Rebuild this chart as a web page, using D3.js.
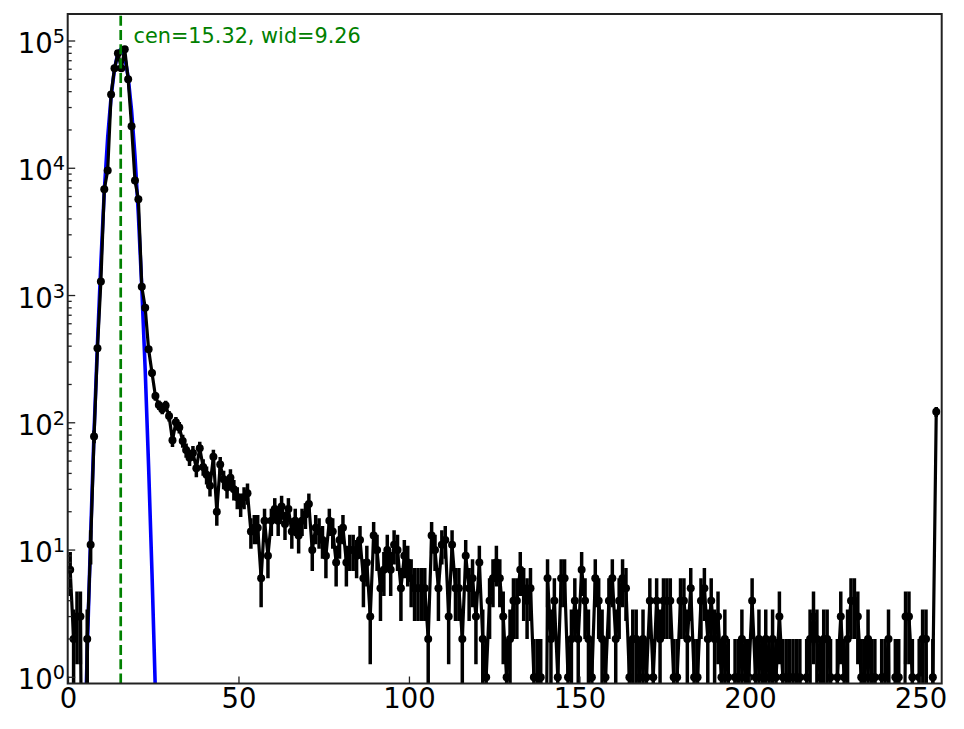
<!DOCTYPE html>
<html lang="en">
<head>
<meta charset="UTF-8">
<title>Peak fit, log counts</title>
<style>
  body { margin: 0; background: #fff; }
  text { font-family: "DejaVu Sans", sans-serif; fill: #000; }
  .frame { fill: none; stroke: #222; stroke-width: 2px; }
  .tick { stroke: #222; stroke-width: 1.3px; }
  .data-line { fill: none; stroke: #000; stroke-width: 3.2px; stroke-linejoin: round; }
  .err { stroke: #000; stroke-width: 3.5px; }
  .fit { fill: none; stroke: #0000ff; stroke-width: 3.6px; stroke-linejoin: round; }
  .cen { stroke: #008000; stroke-width: 2.7px; stroke-dasharray: 10, 4.3; }
</style>
</head>
<body>
<svg width="964" height="729"></svg>
<script src="https://d3js.org/d3.v7.min.js"></script>
<script>
// counts per bin (bins 0..254), errors are sqrt(n)
var counts = [
  7, 2, 3, 3, 0, 2, 11, 78, 385, 1290,
  6850, 9600, 38000, 61000, 80000, 61000, 86000, 50000, 21400, 8000,
  5700, 1170, 800, 378, 246, 162, 138, 128, 137, 113,
  73, 101, 92, 72, 61, 53, 58, 44, 63, 45,
  39, 32, 54, 20, 47, 36, 31, 37, 30, 26,
  23, 26, 28, 14, 15, 15, 6, 17, 9, 17,
  21, 17, 22, 16, 21, 14, 17, 13, 17, 19,
  23, 10, 15, 14, 12, 9, 17, 14, 8, 12,
  15, 8, 10, 10, 9, 12, 6, 8, 3, 13,
  10, 5, 7, 10, 7, 11, 10, 5, 9, 8,
  6, 5, 5, 5, 5, 2, 13, 10, 5, 11,
  12, 3, 11, 5, 5, 2, 9, 5, 6, 3,
  8, 2, 1, 4, 6, 8, 6, 3, 1, 2,
  4, 4, 7, 5, 4, 5, 1, 1, 1, 0,
  6, 2, 4, 1, 6, 6, 1, 2, 4, 2,
  7, 4, 2, 1, 6, 4, 2, 1, 4, 6,
  2, 4, 6, 5, 1, 2, 2, 1, 2, 1,
  4, 1, 4, 2, 4, 4, 4, 1, 1, 4,
  4, 2, 5, 1, 1, 4, 5, 2, 4, 2,
  3, 1, 2, 1, 0, 1, 1, 2, 1, 1,
  4, 1, 2, 1, 2, 1, 2, 1, 3, 1,
  1, 1, 1, 1, 1, 0, 1, 2, 3, 2,
  1, 2, 2, 1, 0, 1, 3, 1, 2, 4,
  4, 3, 1, 1, 2, 1, 1, 0, 1, 1,
  2, 0, 1, 1, 0, 3, 3, 1, 0, 1,
  2, 2, 0, 1, 122
];

// fitted curve read at bin centres (bins 4..26)
var fitBins = [4, 5, 6, 7, 8, 9, 10, 11, 12, 13, 14, 15, 16, 17, 18, 19, 20, 21, 22, 23, 24, 25, 26];
var fitValues = [0.15, 1.6, 13, 85, 420, 1800, 6600, 17500, 36500, 60500, 80500, 87000,
                 75000, 52000, 28500, 12500, 4300, 1150, 260, 45, 6.5, 0.75, 0.07];

var fitCen = 15.32;
var fitLabel = "cen=15.32, wid=9.26";

var xTicks = [0, 50, 100, 150, 200, 250];
var yTickExps = [0, 1, 2, 3, 4, 5];

var svg = d3.select("svg");
var plotLeft = 67.7, plotRight = 941.7, plotTop = 14, plotBottom = 683.5;
var floorVal = 1e-3;

var x = d3.scaleLinear().domain([-0.23, 256.1]).range([plotLeft, plotRight]);
var y = d3.scaleLog().domain([Math.pow(10, -0.0487), Math.pow(10, 5.2122)]).range([plotBottom, plotTop]);

function yv(v) { return y(v > 0 ? v : floorVal); }

svg.append("clipPath").attr("id", "plotclip")
  .append("rect").attr("x", plotLeft).attr("y", plotTop)
  .attr("width", plotRight - plotLeft).attr("height", plotBottom - plotTop);

var plot = svg.append("g").attr("clip-path", "url(#plotclip)");

var pts = counts.map(function(c, i) { return {x: i + 0.5, n: c}; });

// fit curve
var fitPts = fitBins.map(function(b, i) { return {x: b + 0.5, v: fitValues[i]}; });
plot.append("path")
  .attr("class", "fit")
  .attr("d", d3.line()
    .x(function(d) { return x(d.x); })
    .y(function(d) { return yv(d.v); })(fitPts));

// error bars
plot.append("g").selectAll("line")
  .data(pts.filter(function(d) { return d.n > 0; }))
  .enter().append("line")
  .attr("class", "err")
  .attr("x1", function(d) { return x(d.x); })
  .attr("x2", function(d) { return x(d.x); })
  .attr("y1", function(d) { return yv(d.n - Math.sqrt(d.n)); })
  .attr("y2", function(d) { return yv(d.n + Math.sqrt(d.n)); });

// data line
plot.append("path")
  .attr("class", "data-line")
  .attr("d", d3.line()
    .x(function(d) { return x(d.x); })
    .y(function(d) { return yv(d.n); })(pts));

// markers
plot.append("g").selectAll("circle")
  .data(pts.filter(function(d) { return d.n > 0; }))
  .enter().append("circle")
  .attr("cx", function(d) { return x(d.x); })
  .attr("cy", function(d) { return y(d.n); })
  .attr("r", 4)
  .attr("fill", "#000");

// centre line
plot.append("line")
  .attr("class", "cen")
  .attr("x1", x(fitCen)).attr("x2", x(fitCen))
  .attr("y1", plotBottom).attr("y2", plotTop);

svg.append("text")
  .attr("x", 133.5).attr("y", 43)
  .style("font-size", "20.8px")
  .style("fill", "#008000")
  .text(fitLabel);

// ticks
var ticks = svg.append("g");
xTicks.forEach(function(t) {
  ticks.append("line").attr("class", "tick")
    .attr("x1", x(t)).attr("x2", x(t))
    .attr("y1", plotBottom).attr("y2", plotBottom - 7);
  ticks.append("text")
    .attr("x", x(t)).attr("y", 708)
    .attr("text-anchor", "middle")
    .style("font-size", "27.5px")
    .text(t);
});

yTickExps.forEach(function(e) {
  var ty = y(Math.pow(10, e));
  ticks.append("line").attr("class", "tick")
    .attr("x1", plotLeft).attr("x2", plotLeft + 7.5)
    .attr("y1", ty).attr("y2", ty);
  var lbl = ticks.append("text")
    .attr("x", 65).attr("y", ty + 12)
    .attr("text-anchor", "end")
    .style("font-size", "27.5px");
  lbl.append("tspan").text("10");
  lbl.append("tspan").attr("dy", -10).style("font-size", "19.3px").text(e);

  for (var m = 2; m <= 9; m++) {
    var v = m * Math.pow(10, e);
    if (v > y.domain()[1]) continue;
    ticks.append("line").attr("class", "tick")
      .attr("x1", plotLeft).attr("x2", plotLeft + 4)
      .attr("y1", y(v)).attr("y2", y(v));
  }
});

svg.append("rect").attr("class", "frame")
  .attr("x", plotLeft).attr("y", plotTop)
  .attr("width", plotRight - plotLeft).attr("height", plotBottom - plotTop);
</script>
</body>
</html>
